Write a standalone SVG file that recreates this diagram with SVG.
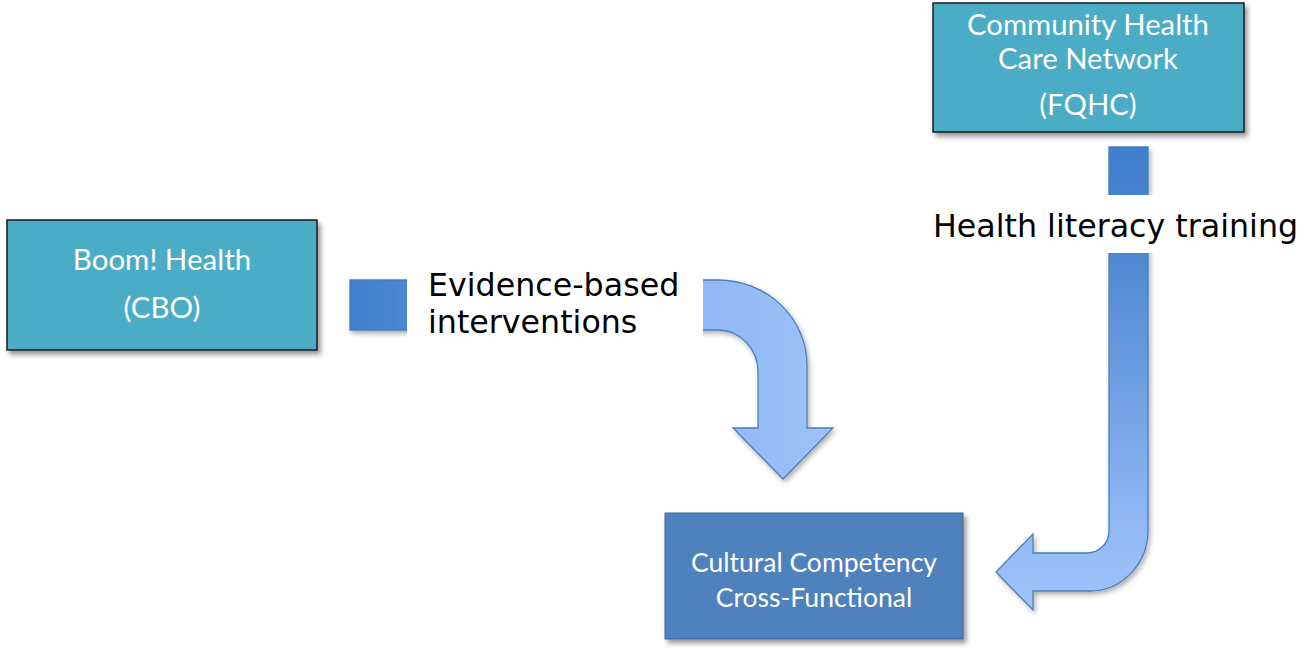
<svg xmlns="http://www.w3.org/2000/svg" width="1306" height="648" viewBox="0 0 1306 648">
  <style>
    .node-teal { fill: #4bacc6; stroke: #1a1a1a; stroke-width: 1.5; }
    .node-blue { fill: #4f81bd; stroke: #3b67a0; stroke-width: 1; }
    .ntext { font-family: Lato, "Open Sans", "Liberation Sans", sans-serif; fill: #ffffff; text-anchor: middle; }
    .label { font-family: "DejaVu Sans", Verdana, sans-serif; font-size: 31.7px; fill: #000000; }
    .arrow { stroke: #4a7ebb; stroke-width: 1.3; stroke-linejoin: miter; }
  </style>
  <defs>
    <filter id="shadow" x="-10%" y="-10%" width="130%" height="130%">
      <feDropShadow dx="3" dy="4" stdDeviation="2.5" flood-color="#000000" flood-opacity="0.4"/>
    </filter>
    <filter id="ashadow" x="-10%" y="-10%" width="130%" height="130%">
      <feDropShadow dx="2" dy="3" stdDeviation="2.5" flood-color="#000000" flood-opacity="0.3"/>
    </filter>
    <linearGradient id="g1" gradientUnits="userSpaceOnUse" x1="350" y1="0" x2="833" y2="0">
      <stop offset="0" stop-color="#3f7fcd"/>
      <stop offset="0.65" stop-color="#8bb3f1"/>
      <stop offset="1" stop-color="#9ec3fa"/>
    </linearGradient>
    <linearGradient id="g2" gradientUnits="userSpaceOnUse" x1="0" y1="147" x2="0" y2="610">
      <stop offset="0" stop-color="#3f7fcd"/>
      <stop offset="0.2" stop-color="#4b84d1"/>
      <stop offset="0.85" stop-color="#95bbf6"/>
      <stop offset="1" stop-color="#9ec3fa"/>
    </linearGradient>
  </defs>

  <g id="connectors">
    <path id="arrow-evidence" class="arrow" fill="url(#g1)" filter="url(#ashadow)"
          d="M350,280 L718,280 A89,85 0 0 1 807,365 L807,428 L833,428 L783,479 L733,428 L758,428 L758,372 A40,42 0 0 0 718,330 L350,330 Z"/>
    <path id="arrow-literacy" class="arrow" fill="url(#g2)" filter="url(#ashadow)"
          d="M1109,147 L1148,147 L1148,530 A58,61 0 0 1 1090,591 L1033,591 L1033,610 L996,572 L1033,534 L1033,553 L1087,553 A22,22 0 0 0 1109,531 Z"/>
    <g id="label-evidence">
      <rect x="407" y="262" width="296" height="82" fill="#ffffff"/>
      <text class="label" x="428" y="296">Evidence-based</text>
      <text class="label" x="428" y="333">interventions</text>
    </g>
    <g id="label-literacy">
      <rect x="925" y="195" width="381" height="58" fill="#ffffff"/>
      <text class="label" x="933" y="237">Health literacy training</text>
    </g>
  </g>

  <g id="node-fqhc">
    <rect class="node-teal" x="933" y="3" width="311" height="129" filter="url(#shadow)"/>
    <text class="ntext" x="1088" y="35" font-size="29.3">Community Health</text>
    <text class="ntext" x="1088" y="69" font-size="29.3">Care Network</text>
    <text class="ntext" x="1088" y="115" font-size="29.3">(FQHC)</text>
  </g>

  <g id="node-boom">
    <rect class="node-teal" x="7" y="220" width="310" height="130" filter="url(#shadow)"/>
    <text class="ntext" x="162" y="270" font-size="29.5">Boom! Health</text>
    <text class="ntext" x="162" y="318" font-size="29.5">(CBO)</text>
  </g>

  <g id="node-cultural">
    <rect class="node-blue" x="665" y="513" width="298" height="126" filter="url(#shadow)"/>
    <text class="ntext" x="814" y="572" font-size="26.5">Cultural Competency</text>
    <text class="ntext" x="814" y="607" font-size="26.5">Cross-Functional</text>
  </g>
</svg>
